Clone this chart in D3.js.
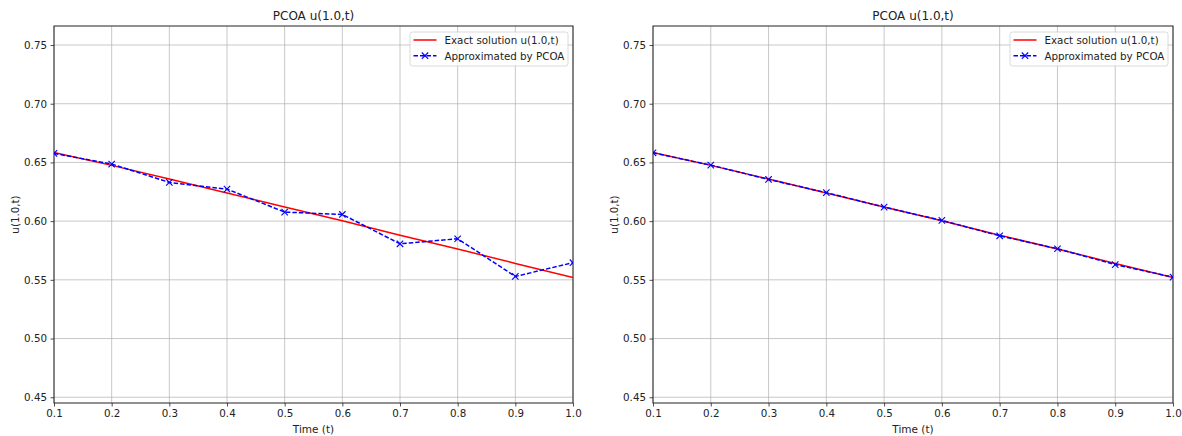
<!DOCTYPE html>
<html>
<head>
<meta charset="utf-8">
<script src="https://cdn.jsdelivr.net/npm/d3@7"></script>
<style>
  body { margin: 0; background: #fff; }
  text { font-family: "DejaVu Sans", sans-serif; fill: #222; }
</style>
</head>
<body>
<svg width="1182" height="436"></svg>
<script>
// values
var times = [0.1, 0.2, 0.3, 0.4, 0.5, 0.6, 0.7, 0.8, 0.9, 1.0];
var exactLeft = [0.6585, 0.6475, 0.6358, 0.6240, 0.6120, 0.6003, 0.5880, 0.5763, 0.5640, 0.5520];
var approxLeft = [0.6577, 0.6486, 0.6330, 0.6273, 0.6077, 0.6057, 0.5807, 0.5850, 0.5529, 0.5646];
var exactRight = [0.6585, 0.6475, 0.6358, 0.6240, 0.6120, 0.6003, 0.5880, 0.5763, 0.5640, 0.5520];
var approxRight = [0.6582, 0.6477, 0.6355, 0.6243, 0.6119, 0.6006, 0.5875, 0.5765, 0.5630, 0.5523];
var xTicks = [0.1, 0.2, 0.3, 0.4, 0.5, 0.6, 0.7, 0.8, 0.9, 1.0];
var yTicks = [0.45, 0.50, 0.55, 0.60, 0.65, 0.70, 0.75];
var titleText = "PCOA u(1.0,t)";
var legendLabels = ["Exact solution u(1.0,t)", "Approximated by PCOA"];

var svg = d3.select("svg");

var plotTop = 26, plotBottom = 403;

var drawPanel = function(left, right, exact, approx) {
  var x = d3.scaleLinear().domain([0.1, 1.0]).range([left, right]);
  var y = d3.scaleLinear().domain([0.4451, 0.7662]).range([plotBottom, plotTop]);
  var g = svg.append("g");

  // grid
  g.selectAll(".vgrid").data(xTicks).enter().append("line")
    .attr("x1", function(d){ return x(d); })
    .attr("x2", function(d){ return x(d); })
    .attr("y1", plotTop).attr("y2", plotBottom)
    .attr("stroke", "#b0b0b0").attr("stroke-opacity", 0.7).attr("stroke-width", 1);
  g.selectAll(".hgrid").data(yTicks).enter().append("line")
    .attr("x1", left).attr("x2", right)
    .attr("y1", function(d){ return y(d); })
    .attr("y2", function(d){ return y(d); })
    .attr("stroke", "#b0b0b0").attr("stroke-opacity", 0.7).attr("stroke-width", 1);

  // axes
  var xAxis = d3.axisBottom(x).tickValues(xTicks).tickSize(3.5).tickPadding(3)
    .tickFormat(d3.format(".1f"));
  var yAxis = d3.axisLeft(y).tickValues(yTicks).tickSize(3.5).tickPadding(3.5)
    .tickFormat(d3.format(".2f"));
  var gx = g.append("g").attr("transform", "translate(0," + plotBottom + ")").call(xAxis);
  var gy = g.append("g").attr("transform", "translate(" + left + ",0)").call(yAxis);
  [gx, gy].forEach(function(a){
    a.select(".domain").remove();
    a.selectAll("line").attr("stroke", "#222").attr("stroke-width", 0.8);
    a.selectAll("text").style("font-size", "10.3px").attr("fill", "#222");
  });

  // frame
  g.append("rect")
    .attr("x", left).attr("y", plotTop)
    .attr("width", right - left).attr("height", plotBottom - plotTop)
    .attr("fill", "none").attr("stroke", "#222").attr("stroke-width", 1);

  var clip = "clip" + left;
  g.append("clipPath").attr("id", clip).append("rect")
    .attr("x", left).attr("y", plotTop).attr("width", right - left).attr("height", plotBottom - plotTop);

  var line = d3.line()
    .x(function(d){ return x(d[0]); })
    .y(function(d){ return y(d[1]); });

  var exactPts = times.map(function(t, i){ return [t, exact[i]]; });
  var approxPts = times.map(function(t, i){ return [t, approx[i]]; });

  var plot = g.append("g").attr("clip-path", "url(#" + clip + ")");
  plot.append("path").datum(exactPts)
    .attr("d", line).attr("fill", "none")
    .attr("stroke", "red").attr("stroke-width", 1.5);
  plot.append("path").datum(approxPts)
    .attr("d", line).attr("fill", "none")
    .attr("stroke", "blue").attr("stroke-width", 1.5)
    .attr("stroke-dasharray", "4.5,2");
  var s = 3.2;
  plot.selectAll(".mk").data(approxPts).enter().append("path")
    .attr("d", function(d){
      var cx = x(d[0]), cy = y(d[1]);
      return "M" + (cx - s) + "," + (cy - s) + "L" + (cx + s) + "," + (cy + s) +
        "M" + (cx - s) + "," + (cy + s) + "L" + (cx + s) + "," + (cy - s);
    })
    .attr("stroke", "blue").attr("stroke-width", 1.1).attr("fill", "none");

  // titles
  var mid = (left + right) / 2;
  g.append("text").attr("x", mid).attr("y", 19.5)
    .attr("text-anchor", "middle").style("font-size", "12px").text(titleText);
  g.append("text").attr("x", mid).attr("y", 433)
    .attr("text-anchor", "middle").style("font-size", "10.5px").text("Time (t)");
  g.append("text")
    .attr("transform", "translate(" + (left - 35) + "," + ((plotTop + plotBottom) / 2) + ") rotate(-90)")
    .attr("text-anchor", "middle").style("font-size", "10.3px").text("u(1.0,t)");

  // legend
  var lx = right - 163, ly = 32;
  var lg = g.append("g");
  lg.append("rect").attr("x", lx).attr("y", ly).attr("width", 158).attr("height", 34)
    .attr("rx", 2.5).attr("fill", "#fff").attr("fill-opacity", 0.8)
    .attr("stroke", "#d0d0d0").attr("stroke-width", 0.8);
  lg.append("line").attr("x1", lx + 3.5).attr("x2", lx + 26.5)
    .attr("y1", ly + 8).attr("y2", ly + 8)
    .attr("stroke", "red").attr("stroke-width", 1.5);
  lg.append("line").attr("x1", lx + 3.5).attr("x2", lx + 26.5)
    .attr("y1", ly + 23.7).attr("y2", ly + 23.7)
    .attr("stroke", "blue").attr("stroke-width", 1.5).attr("stroke-dasharray", "4.5,2");
  var mx = lx + 15, my = ly + 23.7;
  lg.append("path")
    .attr("d", "M" + (mx - s) + "," + (my - s) + "L" + (mx + s) + "," + (my + s) +
      "M" + (mx - s) + "," + (my + s) + "L" + (mx + s) + "," + (my - s))
    .attr("stroke", "blue").attr("stroke-width", 1.1);
  lg.selectAll(".lt").data(legendLabels).enter().append("text")
    .attr("x", lx + 34.5)
    .attr("y", function(d, i){ return ly + 11.8 + i * 15.7; })
    .style("font-size", "10.3px")
    .text(function(d){ return d; });
};

drawPanel(54, 573, exactLeft, approxLeft);
drawPanel(653, 1173, exactRight, approxRight);
</script>
</body>
</html>
